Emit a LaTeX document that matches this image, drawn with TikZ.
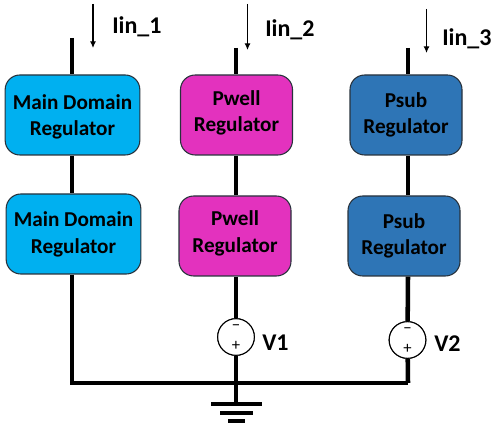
\documentclass[tikz,border=0pt]{standalone}
\usepackage{fontspec}
\setmainfont{Carlito}
\usetikzlibrary{arrows.meta}
\definecolor{maincol}{RGB}{0,176,240}
\definecolor{pwellcol}{RGB}{227,50,190}
\definecolor{psubcol}{RGB}{46,117,182}
\definecolor{edgecol}{RGB}{40,50,60}
\newcommand{\regtext}[3]{\raisebox{#3}[0pt][0pt]{\begin{tabular}{@{}c@{}}#1\\#2\end{tabular}}}
\tikzset{
  x=0.75pt,y=-0.75pt,
  reg/.style={draw=edgecol,line width=0.8pt,rounded corners=11pt,align=center,inner sep=0pt,
    font=\bfseries\fontsize{15.9}{20}\selectfont,text=black},
  mainbox/.style={reg,fill=maincol,minimum width=101pt,minimum height=60pt},
  pwellbox/.style={reg,fill=pwellcol,minimum width=84pt,minimum height=60pt},
  psubbox/.style={reg,fill=psubcol,minimum width=84pt,minimum height=60pt},
  wire/.style={line width=2.4pt,draw=black},
  thickwire/.style={line width=3.4pt,draw=black},
  src/.style={circle,draw=black,line width=0.8pt,fill=white,inner sep=0pt,minimum size=27.5pt},
  lab/.style={font=\bfseries\fontsize{18}{20}\selectfont,anchor=west,inner sep=0pt},
  cur/.style={line width=0.8pt,-{Latex[length=5pt,width=4.5pt]}},
  sign/.style={font=\fontsize{12.5}{13}\selectfont,inner sep=0pt},
}
\begin{document}
\begin{tikzpicture}
\useasboundingbox (0,0) rectangle (495,423);
\coordinate (t1) at (72,38);
\coordinate (t2) at (236,48);
\coordinate (t3) at (408,48);
\coordinate (c1) at (72,383);
\coordinate (c3) at (408,383);
\coordinate (j) at (236,383);
\node[mainbox] (m1) at (72.5,115) {\regtext{Main Domain}{Regulator}{-6pt}};
\node[mainbox] (m2) at (73.5,234) {\regtext{Main Domain}{Regulator}{-5pt}};
\node[pwellbox] (p1) at (236.5,115) {\regtext{Pwell}{Regulator}{-3pt}};
\node[pwellbox] (p2) at (235,236) {\regtext{Pwell}{Regulator}{-2.5pt}};
\node[psubbox] (s1) at (406,115) {\regtext{Psub}{Regulator}{-4.5pt}};
\node[psubbox] (s2) at (404,236) {\regtext{Psub}{Regulator}{-4.5pt}};
\node[src] (v1) at (236,337) {};
\node[src] (v2) at (407.5,340) {};
\coordinate (g1a) at (211,403.5); \coordinate (g1b) at (262,403.5);
\coordinate (g2a) at (220,413); \coordinate (g2b) at (253,413);
\coordinate (g3a) at (228,421); \coordinate (g3b) at (245,421);
\coordinate (g) at (236,403.5);
\draw[wire] (t1) -- (m1.north -| t1);
\draw[wire] (m1.south -| t1) -- (m2.north -| t1);
\draw[wire] (m2.south -| t1) -- (c1) -- (j);
\draw[wire] (t2) -- (p1.north -| t2);
\draw[wire] (p1.south -| t2) -- (p2.north -| t2);
\draw[wire] (p2.south -| t2) -- (v1);
\draw[wire] (j) -- (c3);
\draw[wire] (v1) -- (j);
\draw[wire] (j) -- (g);
\draw[thickwire] (t3) -- (s1.north -| t3);
\draw[thickwire] (s1.south -| t3) -- (s2.north -| t3);
\draw[thickwire] (s2.south -| t3) -- (v2);
\draw[thickwire] (v2) -- (c3);
\node[src] at (v1) {};
\node[src] at (v2) {};
\node[sign] at ([yshift=7pt]v1.center) {−};
\node[sign] at ([yshift=-6.5pt]v1.center) {+};
\node[sign] at ([yshift=7pt]v2.center) {−};
\node[sign] at ([yshift=-6.5pt]v2.center) {+};
\draw[line width=3pt] (g1a) -- (g1b);
\draw[line width=3pt] (g2a) -- (g2b);
\draw[line width=3pt] (g3a) -- (g3b);
\coordinate (a1s) at (93,4); \coordinate (a1e) at (93,48);
\coordinate (a2s) at (247.5,4); \coordinate (a2e) at (247.5,50);
\coordinate (a3s) at (426.5,9); \coordinate (a3e) at (426.5,53);
\draw[cur] (a1s) -- (a1e);
\draw[cur] (a2s) -- (a2e);
\draw[cur] (a3s) -- (a3e);
\node[lab] (l1) at (112,27) {Iin\_1};
\node[lab] (l2) at (265,30) {Iin\_2};
\node[lab] (l3) at (442,38.5) {Iin\_3};
\node[lab] (lv1) at (262,343) {V1};
\node[lab] (lv2) at (434,344) {V2};
\end{tikzpicture}
\end{document}
